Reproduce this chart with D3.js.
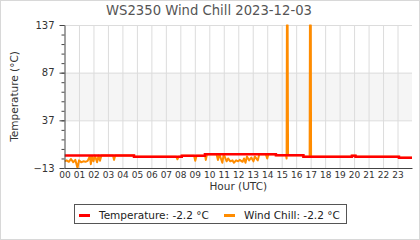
<!DOCTYPE html>
<html>
<head>
<meta charset="utf-8">
<script src="https://cdn.jsdelivr.net/npm/d3@7"></script>
<style>
  body { margin: 0; background: #fff; }
  svg { display: block; font-family: "DejaVu Sans", sans-serif; }
</style>
</head>
<body>
<svg id="chart" width="420" height="240"></svg>
<script>
// data
const title = "WS2350 Wind Chill 2023-12-03"
const hourTicks = d3.range(0, 24)
const yMajorTicks = [-13, 37, 87, 137]
const yMinorTicks = d3.range(-13, 138, 10)

// temperature, step changes (hour, °C)
const tempHours  = [0,   4.8,  8.1,  9.7, 14.6, 16.5, 19.85, 20.1, 23.1, 24]
const tempValues = [0.1, -1.1, -0.1, 1.4, 0.4,  -1.1, -0.1,  -1.1, -2.2, -2.2]

// wind chill points (hour, °C)
const chillHours = [
  0, 0.15, 0.3, 0.45, 0.6, 0.75, 0.9, 1.0, 1.15, 1.3, 1.45, 1.6, 1.75, 1.82, 1.9, 2.0, 2.1, 2.25, 2.35, 2.45, 2.55,
  3.35, 3.42, 3.5, 4.8, 4.8, 7.72, 7.8, 7.88, 8.1, 8.1, 8.95, 9.03, 9.12, 9.7, 9.7, 9.76, 9.84,
  10.5, 10.6, 10.7, 10.9, 11.0, 11.2, 11.3, 11.45, 11.6, 11.7, 11.85, 12.0, 12.1, 12.3, 12.4, 12.5, 12.6,
  12.75, 12.9, 13.05, 13.15, 13.35, 13.45, 13.9, 14.0, 14.08, 14.6, 14.6,
  15.3, 15.34, 15.36, 15.41, 15.44, 16.5, 16.5, 16.93, 16.95, 17.01, 17.03, 19.85, 19.85, 20.1, 20.1, 23.1, 23.1, 24
]
const chillValues = [
  -6, -5, -6.5, -3.5, -7, -4.5, -13, -5, -7, -6, -6.5, -5.5, -0.5, -9, -1, -6, 0, -7, 0, -5.5, 0.1,
  0.1, -4.5, 0.1, 0.1, -1.1, -1.1, -3.8, -1.1, -1.1, -0.1, -0.1, -5.5, -0.1, -0.1, 1.4, -4.5, 1.4,
  1.4, -4.5, 1.4, -7.5, 1.4, -6, -3, -6, -5, -7.5, -5, -6, -4.5, -6.5, -3, -7.5, -1,
  -5, -2, -6, -1, -5, 1.4, 1.4, -3, 1.4, 1.4, 0.4,
  0.4, -3, 137, 137, 0.4, 0.4, -1.1, -1.1, 137, 137, -1.1, -1.1, -0.1, -0.1, -1.1, -1.1, -2.2, -2.2
]

const legendItems = [
  {name: "Temperature: -2.2 °C", color: "#ff0000"},
  {name: "Wind Chill: -2.2 °C", color: "#ff8c00"}
]

const width = 420
const height = 240
const margin = {top: 25, left: 64.5, right: 8, bottom: 72}
const plotRight = width - margin.right
const plotBottom = height - margin.bottom

const svg = d3.select("#chart")

// outer frame
svg.append("rect")
  .attr("x", 0.5).attr("y", 0.5)
  .attr("width", width - 1).attr("height", height - 1)
  .attr("fill", "#fff").attr("stroke", "#d8d8d8")

const x = d3.scaleLinear().domain([0, 24]).range([margin.left, plotRight])
const y = d3.scaleLinear().domain([-13, 137]).range([plotBottom, margin.top])

// shaded band 37..87
svg.append("rect")
  .attr("x", x(0)).attr("y", y(87))
  .attr("width", x(24) - x(0)).attr("height", y(37) - y(87))
  .attr("fill", "#f5f5f5")

// grid
const gridColor = "#dcdcdc"
svg.append("g")
  .attr("transform", `translate(0,${plotBottom})`)
  .call(d3.axisBottom(x).tickValues(hourTicks.slice(1)).tickSize(-(plotBottom - margin.top)).tickFormat(""))
  .call(g => g.select(".domain").remove())
  .call(g => g.selectAll("line").attr("stroke", gridColor))
svg.append("g")
  .attr("transform", `translate(${margin.left},0)`)
  .call(d3.axisLeft(y).tickValues([37, 87, 137]).tickSize(-(plotRight - margin.left)).tickFormat(""))
  .call(g => g.select(".domain").remove())
  .call(g => g.selectAll("line").attr("stroke", gridColor))

// lines
svg.append("clipPath").attr("id", "plotclip")
  .append("rect")
  .attr("x", margin.left).attr("y", margin.top - 0.5)
  .attr("width", plotRight - margin.left).attr("height", plotBottom - margin.top + 0.5)

const chillData = chillHours.map((h, i) => [h, chillValues[i]])
const tempData = tempHours.map((h, i) => [h, tempValues[i]])

const line = d3.line().x(d => x(d[0])).y(d => y(d[1]))

svg.append("path")
  .datum(chillData)
  .attr("clip-path", "url(#plotclip)")
  .attr("fill", "none")
  .attr("stroke", legendItems[1].color)
  .attr("stroke-width", 2)
  .attr("stroke-linejoin", "round")
  .attr("d", line)

svg.append("path")
  .datum(tempData)
  .attr("clip-path", "url(#plotclip)")
  .attr("fill", "none")
  .attr("stroke", legendItems[0].color)
  .attr("stroke-width", 2.5)
  .attr("d", line.curve(d3.curveStepAfter))

// y axis
const axisColor = "#444"
svg.append("g")
  .attr("transform", `translate(${margin.left},0)`)
  .call(d3.axisLeft(y).tickValues(yMinorTicks).tickSize(3).tickFormat(""))
  .call(g => g.select(".domain").remove())
  .call(g => g.selectAll("line").attr("stroke", axisColor))
svg.append("g")
  .attr("transform", `translate(${margin.left},0)`)
  .call(d3.axisLeft(y).tickValues(yMajorTicks).tickSize(5).tickSizeOuter(0).tickPadding(5))
  .call(g => g.select(".domain").attr("stroke", axisColor))
  .call(g => g.selectAll("line").attr("stroke", axisColor))
  .call(g => g.selectAll("text").attr("font-size", 10).attr("fill", "#333")
    .attr("font-family", "DejaVu Sans"))

// x axis
svg.append("g")
  .attr("transform", `translate(0,${plotBottom})`)
  .call(d3.axisBottom(x).tickValues(hourTicks).tickSize(0).tickSizeOuter(0).tickPadding(4)
    .tickFormat(d => String(d).padStart(2, "0")))
  .call(g => g.select(".domain").attr("stroke", axisColor))
  .call(g => g.selectAll("text").attr("font-size", 9).attr("fill", "#333")
    .attr("font-family", "DejaVu Sans"))

// texts
svg.append("text")
  .attr("x", 209).attr("y", 15)
  .attr("text-anchor", "middle")
  .attr("font-size", 13.2).attr("fill", "#555")
  .text(title)

svg.append("text")
  .attr("x", (margin.left + plotRight) / 2).attr("y", 190)
  .attr("text-anchor", "middle")
  .attr("font-size", 10.5).attr("fill", "#333")
  .text("Hour (UTC)")

svg.append("text")
  .attr("transform", `translate(18,${(margin.top + plotBottom) / 2}) rotate(-90)`)
  .attr("text-anchor", "middle")
  .attr("font-size", 10.5).attr("fill", "#333")
  .text("Temperature (°C)")

// legend
const legend = svg.append("g")
legend.append("rect")
  .attr("x", 74.5).attr("y", 204.5)
  .attr("width", 272).attr("height", 19)
  .attr("fill", "#fff").attr("stroke", "#555")

const legendX = [79, 224]
legendItems.forEach((item, i) => {
  legend.append("line")
    .attr("x1", legendX[i]).attr("x2", legendX[i] + 11)
    .attr("y1", 215.5).attr("y2", 215.5)
    .attr("stroke", item.color).attr("stroke-width", 3)
  legend.append("text")
    .attr("x", legendX[i] + 20).attr("y", 218.5)
    .attr("font-size", 10.5).attr("fill", "#222")
    .text(item.name)
})
</script>
</body>
</html>
